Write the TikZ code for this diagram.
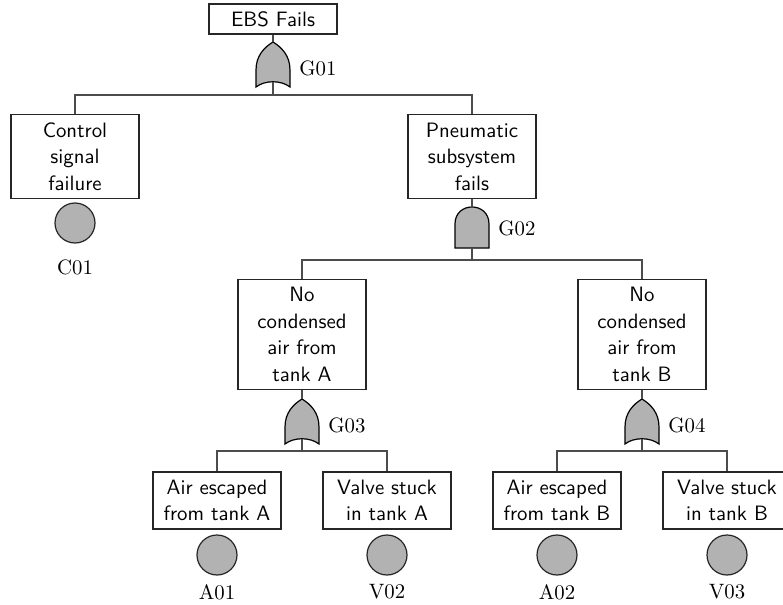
\documentclass[tikz,border=0pt]{standalone}
\begin{document}
\begin{tikzpicture}[x=0.5pt,y=-0.5pt]
\tikzset{
  evbox/.style={draw=black!85, line width=0.6pt, fill=white,
    font=\sffamily\fontsize{10.4}{13.3}\selectfont, align=center,
    minimum width=64pt, inner sep=0pt},
  conn/.style={draw=black!70, line width=1.1pt},
  basic/.style={circle, draw=black!85, fill=black!30, line width=0.6pt,
    minimum size=20pt, inner sep=0pt},
  glabel/.style={font=\rmfamily\fontsize{10.4}{12}\selectfont, anchor=west, inner sep=0pt},
  idlabel/.style={font=\rmfamily\fontsize{10.4}{12}\selectfont, inner sep=0pt},
  orgate/.pic={
    \path[draw=black, fill=black!30, line width=0.6pt]
      (-17,22) -- (-17,5) .. controls (-17,-10) and (-8,-18) .. (0,-23)
      .. controls (8,-18) and (17,-10) .. (17,5) -- (17,22)
      .. controls (8,15) and (-8,15) .. (-17,22) -- cycle;
    \coordinate (-top) at (0,-23);
    \coordinate (-bot) at (0,17);
    \coordinate (-east) at (17,0);
  },
  andgate/.pic={
    \path[draw=black, fill=black!30, line width=0.6pt]
      (-17,20.5) -- (-17,-3.5) .. controls (-17,-26.2) and (17,-26.2) .. (17,-3.5)
      -- (17,20.5) -- cycle;
    \coordinate (-top) at (0,-20.5);
    \coordinate (-bot) at (0,20.5);
    \coordinate (-east) at (17,0);
  }
}
\useasboundingbox (0,0) rectangle (783,605);
\clip (0,0) rectangle (783,605);

% events
\node[evbox, minimum height=15pt] (ebs) at (273,19) {EBS Fails};
\node[evbox, minimum height=42pt] (ctrl) at (75,156.5) {Control\\signal\\failure};
\node[evbox, minimum height=42pt] (pneu) at (472,156.5) {Pneumatic\\subsystem\\fails};
\node[evbox, minimum height=55pt] (tka) at (302,334.5) {No\\condensed\\air from\\tank A};
\node[evbox, minimum height=55pt] (tkb) at (642,334.5) {No\\condensed\\air from\\tank B};
\node[evbox, minimum height=28.5pt] (aea) at (217,500.5) {Air escaped\\from tank A};
\node[evbox, minimum height=28.5pt] (vsa) at (387,500.5) {Valve stuck\\in tank A};
\node[evbox, minimum height=28.5pt] (aeb) at (557,500.5) {Air escaped\\from tank B};
\node[evbox, minimum height=28.5pt] (vsb) at (727,500.5) {Valve stuck\\in tank B};

% gates
\pic (g1) at (273,65) {orgate};
\pic (g2) at (472,227.5) {andgate};
\pic (g3) at (302,422) {orgate};
\pic (g4) at (642,422) {orgate};

\node[glabel] (lg1) at ([xshift=4.5pt,yshift=-1.5pt]g1-east) {G01};
\node[glabel] (lg2) at ([xshift=4.5pt,yshift=-0.5pt]g2-east) {G02};
\node[glabel] (lg3) at ([xshift=4.5pt,yshift=-1.5pt]g3-east) {G03};
\node[glabel] (lg4) at ([xshift=4.5pt,yshift=-1.5pt]g4-east) {G04};

% basic events
\node[basic] (c01) at (75,223) {};
\node[basic] (a01) at (217,555) {};
\node[basic] (v02) at (387,555) {};
\node[basic] (a02) at (557,555) {};
\node[basic] (v03) at (727,555) {};
\node[idlabel] (lc01) at (75,267) {C01};
\node[idlabel] (la01) at (217,592) {A01};
\node[idlabel] (lv02) at (387,592) {V02};
\node[idlabel] (la02) at (557,592) {A02};
\node[idlabel] (lv03) at (727,592) {V03};

% junctions
\coordinate (j1) at (273,95);
\coordinate (j2) at (472,260);
\coordinate (j3) at (302,451);
\coordinate (j4) at (642,451);

% connectors
\draw[conn] (ebs.south) -- (g1-top);
\draw[conn] (g1-bot) -- (j1);
\draw[conn] (ctrl.north) |- (j1) -| (pneu.north);

\draw[conn] (pneu.south) -- (g2-top);
\draw[conn] (g2-bot) -- (j2);
\draw[conn] (tka.north) |- (j2) -| (tkb.north);

\draw[conn] (tka.south) -- (g3-top);
\draw[conn] (g3-bot) -- (j3);
\draw[conn] (aea.north) |- (j3) -| (vsa.north);

\draw[conn] (tkb.south) -- (g4-top);
\draw[conn] (g4-bot) -- (j4);
\draw[conn] (aeb.north) |- (j4) -| (vsb.north);
\end{tikzpicture}
\end{document}
